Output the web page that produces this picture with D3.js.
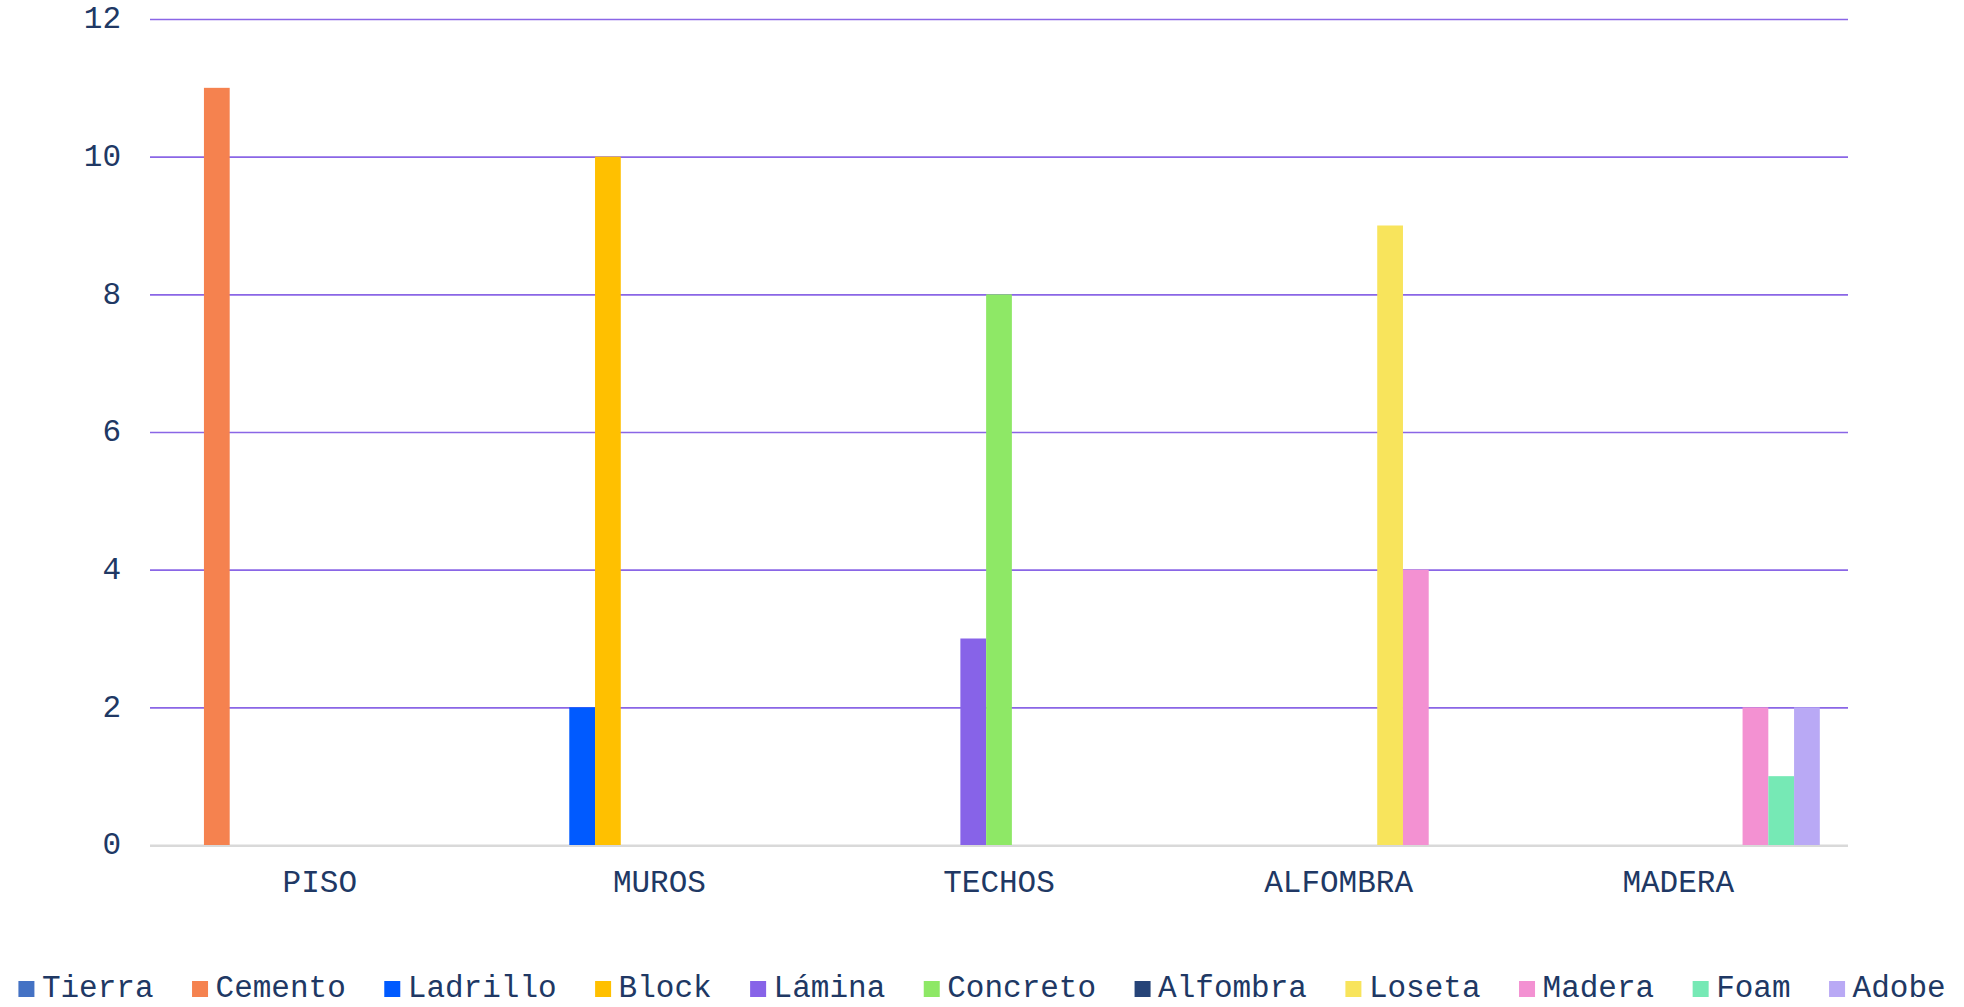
<!DOCTYPE html>
<html>
<head>
<meta charset="utf-8">
<script src="https://cdn.jsdelivr.net/npm/d3@7"></script>
<style>
  html, body { margin: 0; padding: 0; background: #ffffff; }
  svg { display: block; }
  text { font-family: "Courier New", "Liberation Mono", monospace; fill: #203864; }
</style>
</head>
<body>
<svg id="chart" width="1964" height="1007"></svg>
<script>
const categories = ["PISO", "MUROS", "TECHOS", "ALFOMBRA", "MADERA"];
const seriesNames = ["Tierra", "Cemento", "Ladrillo", "Block", "Lámina", "Concreto", "Alfombra", "Loseta", "Madera", "Foam", "Adobe"];
const seriesColors = ["#4472C4", "#F5824F", "#005AFF", "#FFC000", "#8763E8", "#8EE866", "#264478", "#F8E45C", "#F391D2", "#76E9B5", "#B9A9F5"];
const tierra   = [0, 0, 0, 0, 0];
const cemento  = [11, 0, 0, 0, 0];
const ladrillo = [0, 2, 0, 0, 0];
const block    = [0, 10, 0, 0, 0];
const lamina   = [0, 0, 3, 0, 0];
const concreto = [0, 0, 8, 0, 0];
const alfombra = [0, 0, 0, 0, 0];
const loseta   = [0, 0, 0, 9, 0];
const madera   = [0, 0, 0, 4, 2];
const foam     = [0, 0, 0, 0, 1];
const adobe    = [0, 0, 0, 0, 2];
const yTicks = [0, 2, 4, 6, 8, 10, 12];

const seriesValues = [tierra, cemento, ladrillo, block, lamina, concreto, alfombra, loseta, madera, foam, adobe];

(function () {
const svg = d3.select("#chart");
const pLeft = 150, pRight = 1848, pTop = 19, pBottom = 845;
const fontSize = 31;
const ff = "\"Courier New\", \"Liberation Mono\", monospace";

const x0 = d3.scaleBand().domain(categories).range([pLeft, pRight]).paddingInner(0).paddingOuter(0);
const x1 = d3.scaleBand().domain(seriesNames).range([0, x0.bandwidth()]).paddingInner(0).paddingOuter(1.095);
const y = d3.scaleLinear().domain([0, 12]).range([pBottom, pTop]);

const yAxis = d3.axisLeft(y).tickValues(yTicks).tickSize(-(pRight - pLeft)).tickPadding(29).tickFormat(d3.format("d"));
const gy = svg.append("g").attr("transform", `translate(${pLeft},0)`).call(yAxis);
gy.select(".domain").remove();
gy.selectAll(".tick line")
  .attr("stroke", d => d === 0 ? "#d9d9d9" : "#8A66E6")
  .attr("stroke-width", d => d === 0 ? 2.2 : 1.6);
gy.selectAll(".tick text")
  .attr("font-size", fontSize)
  .attr("fill", "#203864")
  .attr("font-family", ff)
  .attr("dy", "0.28em");

const data = [];
categories.forEach((c, ci) => {
  seriesNames.forEach((s, si) => {
    data.push({cat: c, series: s, value: seriesValues[si][ci], color: seriesColors[si]});
  });
});
svg.append("g").selectAll("rect")
  .data(data.filter(d => d.value > 0))
  .join("rect")
  .attr("x", d => x0(d.cat) + x1(d.series))
  .attr("width", x1.bandwidth())
  .attr("y", d => y(d.value))
  .attr("height", d => y(0) - y(d.value))
  .attr("fill", d => d.color);

svg.append("line")
  .attr("x1", pLeft).attr("x2", pRight)
  .attr("y1", y(0) + 1).attr("y2", y(0) + 1)
  .attr("stroke", "#d9d9d9").attr("stroke-width", 2);

const xAxis = d3.axisBottom(x0).tickSize(0).tickPadding(25);
const gx = svg.append("g").attr("transform", `translate(0,${pBottom})`).call(xAxis);
gx.select(".domain").remove();
gx.selectAll(".tick text")
  .attr("font-size", fontSize)
  .attr("fill", "#203864")
  .attr("font-family", ff);

const legend = svg.append("g");
const items = legend.selectAll("g").data(seriesNames).join("g");
items.append("rect").attr("width", 16).attr("height", 16).attr("y", 981)
  .attr("fill", (d, i) => seriesColors[i]);
items.append("text").attr("x", 23.5).attr("y", 997).attr("font-size", fontSize).text(d => d);
const widths = [];
items.each(function () {
  widths.push(d3.select(this).select("text").node().getComputedTextLength());
});
const spacing = 38.5;
const total = widths.reduce((a, w) => a + 23.5 + w, 0) + spacing * (widths.length - 1);
let xpos = (1964 - total) / 2;
items.attr("transform", (d, i) => {
  const t = `translate(${xpos},0)`;
  xpos += 23.5 + widths[i] + spacing;
  return t;
});
})();
</script>
</body>
</html>
